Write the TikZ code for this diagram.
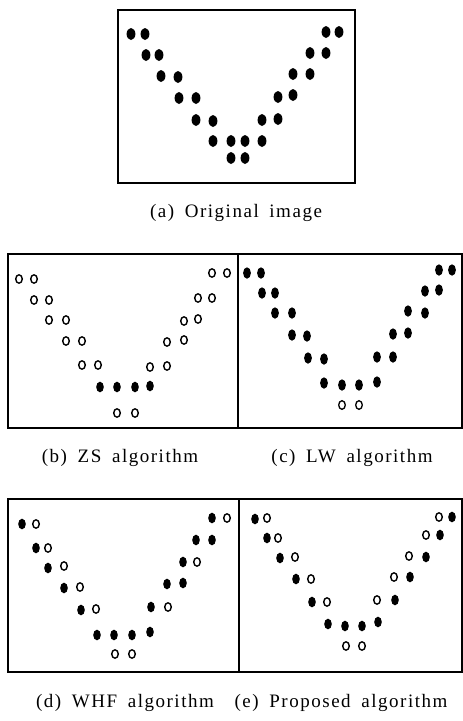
\documentclass[tikz,border=0pt]{standalone}
\usepackage{fontspec}
\setmainfont{Liberation Serif}[LetterSpace=8, WordSpace=1.7]
\begin{document}
\begin{tikzpicture}[x=1pt,y=-1pt,
  frame/.style={line width=1.6pt},
  captxt/.style={font=\fontsize{19}{21}\selectfont, inner sep=0pt}]
\useasboundingbox (0,0) rectangle (463,721);
\fill[white] (0,0) rectangle (463,721);
% frames
\draw[line width=2.2pt] (118,10) rectangle (355,183);
\draw[frame] (8,254) rectangle (462,428);
\draw[frame] (238,254) -- (238,428);
\draw[frame] (8,499) rectangle (462,672);
\draw[frame] (239,499) -- (239,672);
% (a) all filled
\foreach \p in {(131,34),(145,34),(326,32),(339,32),
  (146,55),(159,55),(310,53),(326,53),
  (161,76),(178,77),(293,74),(310,74),
  (179,98),(196,98),(278,97),(293,95),
  (196,120),(213,121),(262,120),(278,119),
  (213,141),(231,141),(245,141),(262,141),
  (231,158),(245,158)}
  \fill \p ellipse[x radius=4.4, y radius=6];
% (b)
\foreach \p in {(19,279),(34,279),(212,273),(227,273),
  (34,300),(49,300),(198,298),(212,298),
  (49,320),(66,320),(184,321),(198,319),
  (66,341),(82,341),(167,342),(184,340),
  (82,365),(98,365),(150,367),(167,366),
  (117,413),(135,413)}
  \draw[line width=1.4pt] \p ellipse[x radius=3.3, y radius=4.2];
\foreach \p in {(100,387),(117,387),(135,387),(150,386)}
  \fill \p ellipse[x radius=3.8, y radius=5.3];
% (c)
\foreach \p in {(247,273),(261,273),(439,270),(452,270),
  (262,293),(275,293),(425,291),(439,290),
  (275,313),(292,313),(408,311),(425,313),
  (292,335),(307,336),(393,334),(408,333),
  (308,358),(324,359),(377,357),(393,357),
  (324,383),(342,385),(359,385),(377,382)}
  \fill \p ellipse[x radius=3.9, y radius=5.7];
\foreach \p in {(342,405),(359,405)}
  \draw[line width=1.3pt] \p ellipse[x radius=3.3, y radius=4.3];
% (d)
\foreach \p in {(22,524),(212,518),
  (36,548),(196,540),(212,540),
  (48,568),(183,562),
  (64,588),(167,584),(183,583),
  (81,610),(151,607),
  (97,635),(114,635),(132,635),(150,632)}
  \fill \p ellipse[x radius=3.8, y radius=5.3];
\foreach \p in {(36,524),(227,518),
  (48,548),
  (64,566),(197,562),
  (80,587),
  (96,609),(168,607),
  (115,654),(132,654)}
  \draw[line width=1.4pt] \p ellipse[x radius=3.3, y radius=4.2];
% (e)
\foreach \p in {(255,519),(452,517),
  (267,538),(440,535),
  (280,558),(426,557),
  (296,579),(410,577),
  (312,602),(395,600),
  (328,624),(345,626),(362,626),(378,622)}
  \fill \p ellipse[x radius=3.8, y radius=5.3];
\foreach \p in {(267,518),(439,517),
  (278,538),(426,535),
  (295,557),(409,556),
  (311,579),(394,577),
  (327,602),(377,600),
  (346,646),(362,646)}
  \draw[line width=1.4pt] \p ellipse[x radius=3.3, y radius=4.2];
% captions
\node[captxt] (ca) at (236,213) {(a) Original image};
\node[captxt] (cb) at (120,458) {(b) ZS algorithm};
\node[captxt] (cc) at (352,458) {(c) LW algorithm};
\node[captxt] (cd) at (125,703) {(d) WHF algorithm};
\node[captxt] (ce) at (341,703) {(e) Proposed algorithm};
\end{tikzpicture}
\end{document}
